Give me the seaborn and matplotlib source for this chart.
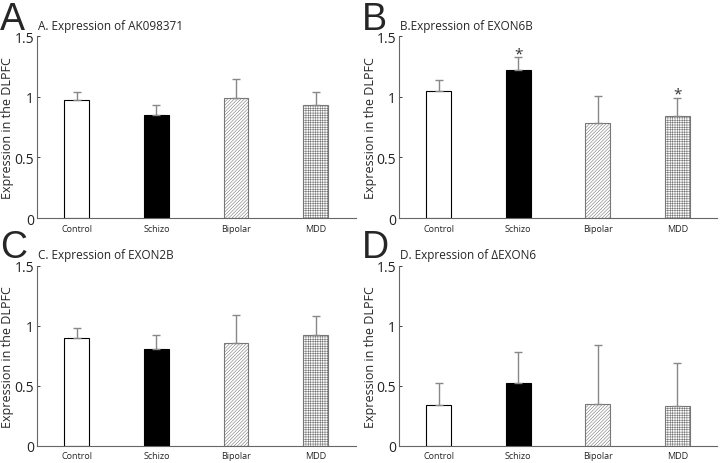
import pandas as pd
import matplotlib.pyplot as plt
import seaborn as sns

# groups and values
groups = ['Control', 'Schizo', 'Bipolar', 'MDD']
means_a = [0.97, 0.85, 0.99, 0.93]
err_a = [0.07, 0.08, 0.155, 0.11]
means_b = [1.05, 1.22, 0.785, 0.84]
err_b = [0.09, 0.105, 0.225, 0.15]
means_c = [0.90, 0.805, 0.86, 0.92]
err_c = [0.085, 0.115, 0.23, 0.16]
means_d = [0.338, 0.527, 0.349, 0.333]
err_d = [0.185, 0.255, 0.49, 0.355]
stars_b = ['', '*', '', '*']

titles = ['A. Expression of AK098371', 'B.Expression of EXON6B',
          'C. Expression of EXON2B', 'D. Expression of \u0394EXON6']
letters = ['A', 'B', 'C', 'D']

sns.set_style('white')
plt.rcParams['font.family'] = ['Open Sans', 'DejaVu Sans']
plt.rcParams['hatch.linewidth'] = 0.4

fig = plt.figure(figsize=(7.2, 4.64), dpi=100)
boxes = [[0.051, 0.528, 0.443, 0.392], [0.554, 0.528, 0.442, 0.392],
         [0.051, 0.037, 0.443, 0.388], [0.554, 0.037, 0.442, 0.388]]
# letter baselines (figure coords)
letter_pos = [(0.0, 0.935), (0.502, 0.935), (0.0, 0.444), (0.502, 0.444)]

panels = [(means_a, err_a, None), (means_b, err_b, stars_b),
          (means_c, err_c, None), (means_d, err_d, None)]

fills = ['white', 'black', 'white', 'white']
hatches = [None, None, '//////////', '+++++++']

for i, (means, errs, stars) in enumerate(panels):
    ax = fig.add_axes(boxes[i])
    df = pd.DataFrame({'group': groups, 'value': means})
    sns.barplot(data=df, x='group', y='value', ax=ax, errorbar=None,
                width=0.31, color='white')
    for p, fc, h in zip(ax.patches, fills, hatches):
        p.set_facecolor(fc)
        p.set_edgecolor('#777777' if h else 'black')
        p.set_linewidth(0.8)
        if h:
            p.set_hatch(h)
    ax.errorbar(range(len(groups)), means, yerr=[[0] * len(errs), errs],
                fmt='none', ecolor='#888888', elinewidth=1, capsize=2.7,
                capthick=1)
    if stars:
        for x, (m, e, s) in enumerate(zip(means, errs, stars)):
            if s:
                ax.text(x, m + e + 0.03, s, ha='center', va='center',
                        fontsize=11, color='#333333')
    ax.set_xlim(-0.5, 3.5)
    ax.set_ylim(0, 1.5)
    ax.set_yticks([0, 0.5, 1, 1.5])
    ax.set_yticklabels(['0', '0.5', '1', '1.5'], fontsize=10)
    ax.tick_params(axis='x', labelsize=6.5, length=0, pad=4)
    ax.tick_params(axis='y', direction='in', length=2, width=0.6, pad=2,
                   left=True, colors='#222222')
    ax.set_xlabel('')
    ax.set_ylabel('Expression in the DLPFC', fontsize=9)
    ax.yaxis.set_label_coords(-0.07, 0.5)
    for side in ['top', 'right']:
        ax.spines[side].set_visible(False)
    for side in ['left', 'bottom']:
        ax.spines[side].set_color('#666666')
        ax.spines[side].set_linewidth(0.8)
    ax.text(0.005, 1.025, titles[i], transform=ax.transAxes, fontsize=8.5,
            ha='left', va='bottom')
    lx, ly = letter_pos[i]
    fig.text(lx, ly, letters[i], fontsize=27, ha='left', va='baseline',
             family=['Liberation Sans', 'DejaVu Sans'])

fig.savefig('out.png', dpi=100)
